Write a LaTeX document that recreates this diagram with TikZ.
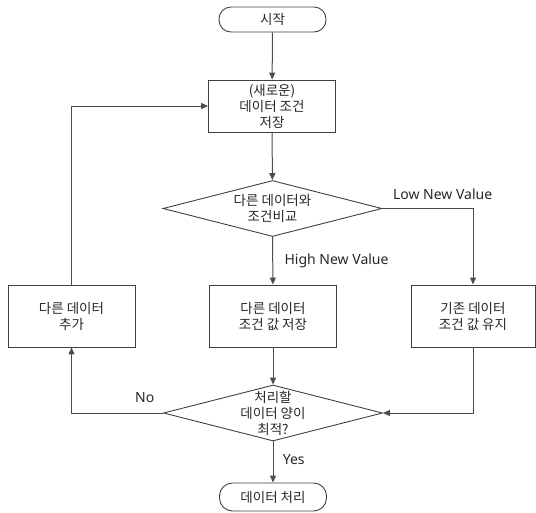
\documentclass[tikz,border=0pt]{standalone}
\usepackage{fontspec}
\setmainfont{Noto Sans CJK KR}
\newfontfamily\latinfont{Noto Sans}
\usetikzlibrary{shapes.geometric,arrows.meta}

\begin{document}
\begin{tikzpicture}[x=1pt,y=-1pt,
    font=\fontsize{13.5}{16}\selectfont,
    every node/.style={text=black!85},
    term/.style={draw=black!75,line width=0.9pt,rounded corners=12pt,minimum width=107pt,minimum height=25pt,inner sep=0pt},
    proc/.style={draw=black!75,line width=0.9pt,align=center,minimum width=127pt,minimum height=52pt,inner sep=0pt},
    decision/.style={draw=black!75,line width=0.9pt,diamond,minimum width=219pt,minimum height=56pt,inner sep=0pt},
    tag/.style={font=\latinfont\fontsize{14}{16}\selectfont},
    flow/.style={draw=black!70,line width=1pt,-{Triangle[length=7pt,width=6pt]}}]

    \useasboundingbox (0,0) rectangle (536,512);

    \node[term] (start) at (272.5,19.5) {시작};
    \node[proc] (save) at (272,106) {(새로운)\\데이터 조건\\저장};
    \node[decision, label={[align=center]center:다른 데이터와\\조건비교}] (cmp) at (272.5,208.5) {};
    \node[proc,minimum height=62pt] (add) at (71.5,316) {다른 데이터\\추가};
    \node[proc,minimum height=62pt] (high) at (273,316) {다른 데이터\\조건 값 저장};
    \node[proc,minimum height=62pt,minimum width=124pt] (keep) at (473,316) {기존 데이터\\조건 값 유지};
    \node[decision, label={[align=center]center:처리할\\데이터 양이\\최적?}] (opt) at (273,413) {};
    \node[term,minimum height=28pt,rounded corners=13pt] (done) at (273,497) {데이터 처리};

    \draw[flow] (start) -- (save);
    \draw[flow] (save) -- (cmp);
    \draw[flow] (cmp) -- node[tag,pos=0.5,right=8pt] {High New Value} (high);
    \draw[flow] (cmp.east) -| node[tag,pos=0.05,above right,yshift=7pt,inner sep=1pt] {Low New Value} (keep.north);
    \draw[flow] (high) -- (opt);
    \draw[flow] (keep.south) |- (opt.east);
    \draw[flow] (opt.west) -| node[tag,pos=0.1,above,yshift=7pt] {No} (add.south);
    \draw[flow] (add.north) |- (save.west);
    \draw[flow] (opt) -- node[tag,pos=0.45,right=6pt] {Yes} (done);
\end{tikzpicture}
\end{document}
